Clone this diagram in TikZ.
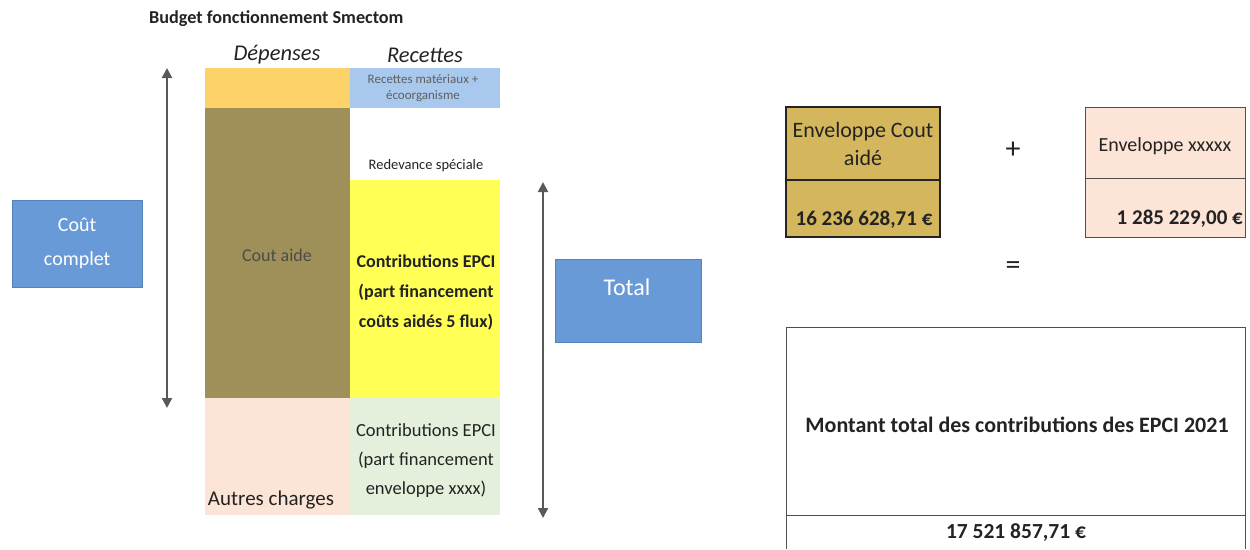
\documentclass[tikz,border=0pt]{standalone}
\usepackage{fontspec}
\setmainfont{Carlito}
\usetikzlibrary{arrows.meta}
\definecolor{olive}{RGB}{158,144,88}
\definecolor{topor}{RGB}{253,211,105}
\definecolor{topbl}{RGB}{168,200,238}
\definecolor{yel}{RGB}{255,255,85}
\definecolor{peach}{RGB}{252,228,214}
\definecolor{lgreen}{RGB}{228,240,220}
\definecolor{bbox}{RGB}{104,154,216}
\definecolor{gold}{RGB}{212,182,92}
\definecolor{dk}{RGB}{35,35,35}
\tikzset{
  bluebox/.style={fill=bbox, draw=bbox!85!black, line width=0.4pt},
  dbl/.style={draw=gray!70!black, line width=2pt, {Triangle[length=10pt,width=10pt]}-{Triangle[length=10pt,width=10pt]}},
  tab/.style={draw=dk, line width=1.2pt},
  txt/.style={inner sep=0pt, align=center, text=dk},
}
\begin{document}
\begin{tikzpicture}[x=1pt,y=-1pt]
\useasboundingbox (0,0) rectangle (1250,549);
% title
\node[txt, font=\bfseries\fontsize{18.2}{20}\selectfont, anchor=west] (title) at (149,19) {Budget fonctionnement Smectom};
\node[txt, font=\itshape\fontsize{22.5}{26}\selectfont] (dep) at (277,55) {Dépenses};
\node[txt, font=\itshape\fontsize{22.5}{26}\selectfont] (rec) at (425,55) {Recettes};
% depenses column
\fill[topor] (205,68) rectangle (350,108);
\fill[olive] (205,108) rectangle (350,398);
\fill[peach] (205,398) rectangle (350,515);
% recettes column
\fill[topbl] (350,68) rectangle (500,108);
\fill[yel] (350,180) rectangle (500,398);
\fill[lgreen] (350,398) rectangle (500,515);
\node[txt, text=gray!75!black, font=\fontsize{13}{16}\selectfont] (rmat) at (423,88) {Recettes matériaux +\\écoorganisme};
\node[txt, font=\fontsize{14.5}{16}\selectfont] (redev) at (426,166) {Redevance spéciale};
\node[txt, text=gray!60!black, font=\fontsize{18}{20}\selectfont] (caide) at (277,255) {Cout aide};
\node[txt, font=\bfseries\fontsize{18}{30}\selectfont] (c1) at (426,293) {Contributions EPCI\\(part financement\\coûts aidés 5 flux)};
\node[txt, font=\fontsize{18.5}{29}\selectfont] (c2) at (426,461) {Contributions EPCI\\(part financement\\enveloppe xxxx)};
\node[txt, font=\fontsize{21}{24}\selectfont] (autres) at (271,500) {Autres charges};
% left arrow and box
\coordinate (la1) at (167,68);
\coordinate (la2) at (167,408);
\draw[dbl] (la1) -- (la2);
\node[bluebox, minimum width=130pt, minimum height=87pt, anchor=north west, text=white, align=center, font=\fontsize{20}{34}\selectfont] (cout) at (12,200) {Coût\\complet};
% right arrow and box
\coordinate (ra1) at (543,182);
\coordinate (ra2) at (543,518);
\draw[dbl] (ra1) -- (ra2);
\node[bluebox, minimum width=146pt, minimum height=83pt, anchor=north west] (total) at (555,259) {};
\node[txt, text=white, font=\fontsize{24}{26}\selectfont] (totalt) at (627,287) {Total};
% right side tables
\draw[tab, fill=gold] (786,107) rectangle (940,237);
\draw[tab] (786,180) -- (940,180);
\node[txt, font=\fontsize{22}{28}\selectfont] (env1) at (863,144) {Enveloppe Cout\\aidé};
\node[txt, font=\bfseries\fontsize{21}{24}\selectfont] (v1) at (864,220) {16 236 628,71 €};
\node[txt, font=\fontsize{30}{32}\selectfont] (plus) at (1013,150) {+};
\draw[line width=1pt, draw=dk!80, fill=peach] (1085,107) rectangle (1245,237);
\draw[line width=1pt, draw=dk!80] (1085,178) -- (1245,178);
\node[txt, font=\fontsize{20}{22}\selectfont] (env2) at (1165,146) {Enveloppe xxxxx};
\node[txt, font=\bfseries\fontsize{21}{24}\selectfont, anchor=east] (v2) at (1243,219) {1 285 229,00 €};
\node[txt, font=\fontsize{30}{32}\selectfont] (eq) at (1013,268) {=};
\draw[line width=1pt, draw=dk!80] (786,549) -- (786,327) -- (1245,327) -- (1245,549);
\draw[line width=1pt, draw=dk!80] (786,515) -- (1245,515);
\node[txt, font=\bfseries\fontsize{22}{24}\selectfont] (mt) at (1017,425) {Montant total des contributions des EPCI 2021};
\node[txt, font=\bfseries\fontsize{21.5}{24}\selectfont] (v3) at (1016,533) {17 521 857,71 €};
\end{tikzpicture}
\end{document}
